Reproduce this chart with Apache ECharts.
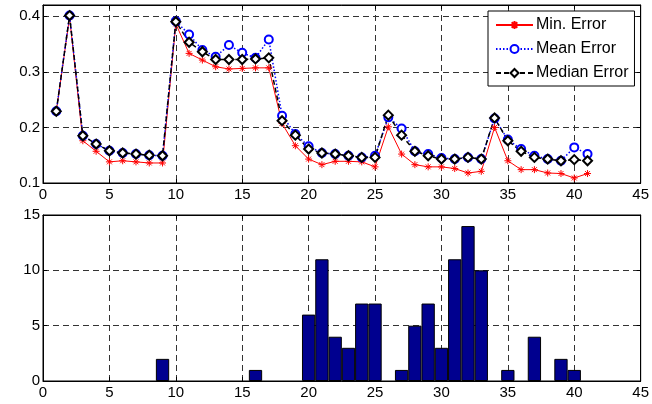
<!DOCTYPE html>
<html>
<head>
    <meta charset="utf-8">
    <title>Error plot</title>
    <script src="https://cdn.jsdelivr.net/npm/echarts@6/dist/echarts.min.js"></script>
</head>
<style>
    html, body { margin: 0; background: #fff; }
    #main { width: 652px; height: 404px; }
</style>
<body>
    <div id="main"></div>
    <script type="text/javascript">
        // top plot: errors per index
        var xs = [1,2,3,4,5,6,7,8,9,10,11,12,13,14,15,16,17,18,19,20,21,22,23,24,25,26,27,28,29,30,31,32,33,34,35,36,37,38,39,40,41];
        var minErr = [0.228,0.398,0.176,0.157,0.138,0.140,0.138,0.136,0.136,0.386,0.333,0.321,0.309,0.305,0.306,0.307,0.307,0.207,0.167,0.143,0.133,0.139,0.139,0.138,0.129,0.201,0.152,0.133,0.129,0.129,0.126,0.118,0.121,0.200,0.140,0.124,0.124,0.118,0.117,0.109,0.117];
        var meanErr = [0.229,0.401,0.185,0.170,0.158,0.154,0.152,0.150,0.149,0.391,0.367,0.339,0.327,0.348,0.334,0.325,0.358,0.221,0.188,0.166,0.154,0.152,0.149,0.146,0.149,0.218,0.198,0.157,0.152,0.145,0.143,0.146,0.143,0.216,0.178,0.161,0.149,0.143,0.140,0.164,0.152];
        var medianErr = [0.229,0.401,0.185,0.170,0.158,0.154,0.152,0.150,0.149,0.390,0.353,0.336,0.322,0.322,0.322,0.323,0.325,0.212,0.186,0.161,0.154,0.152,0.149,0.146,0.146,0.222,0.186,0.157,0.149,0.143,0.143,0.146,0.143,0.217,0.176,0.157,0.146,0.143,0.140,0.142,0.140];
        // bottom plot: histogram
        var histX = [9,16,20,21,22,23,24,25,27,28,29,30,31,32,33,35,37,39,40];
        var histY = [2,1,6,11,4,3,7,7,1,5,7,3,11,14,10,1,4,2,1];

        function pairs(a, b) {
            var out = [];
            for (var i = 0; i < a.length; i++) out.push([a[i], b[i]]);
            return out;
        }

        var font = 'Liberation Sans, Arial, sans-serif';
        var gridLine = { show: true, lineStyle: { color: '#333', type: [6, 4], width: 1 } };
        var tick = { show: true, inside: true, length: 4, lineStyle: { color: '#000' } };
        var label = { color: '#000', fontSize: 15, fontFamily: font, margin: 4 };

        function xAxis(grid, pos, show) {
            return {
                type: 'value', gridIndex: grid, position: pos, min: 0, max: 45, interval: 5,
                axisLine: { show: true, onZero: false, lineStyle: { color: '#000' } },
                axisTick: tick,
                axisLabel: show ? label : { show: false },
                splitLine: show ? gridLine : { show: false }
            };
        }
        function yAxis(grid, pos, show, min, max, interval, fmt) {
            var lab = show ? Object.assign({ showMaxLabel: max % interval === 0, formatter: fmt }, label, { margin: 3 }) : { show: false };
            return {
                type: 'value', gridIndex: grid, position: pos, min: min, max: max, interval: interval,
                axisLine: { show: true, onZero: false, lineStyle: { color: '#000' } },
                axisTick: tick,
                axisLabel: lab,
                splitLine: show ? gridLine : { show: false }
            };
        }

        var star = 'path://M5,0L5,10M0,5L10,5M1.5,1.5L8.5,8.5M8.5,1.5L1.5,8.5';

        var option = {
            animation: false,
            backgroundColor: '#fff',
            grid: [
                { left: 43, top: 5, width: 600, height: 178, show: true, borderColor: '#000', borderWidth: 1 },
                { left: 43, top: 215, width: 600, height: 166, show: true, borderColor: '#000', borderWidth: 1 }
            ],
            xAxis: [xAxis(0, 'bottom', true), xAxis(0, 'top', false), xAxis(1, 'bottom', true), xAxis(1, 'top', false)],
            yAxis: [
                yAxis(0, 'left', true, 0.1, 0.42, 0.1, function (v) { return v.toFixed(1); }),
                yAxis(0, 'right', false, 0.1, 0.42, 0.1),
                yAxis(1, 'left', true, 0, 15, 5),
                yAxis(1, 'right', false, 0, 15, 5)
            ],
            legend: {
                orient: 'vertical', left: 488, top: 11,
                padding: [6, 6, 5, 7], itemGap: 8, itemWidth: 37, itemHeight: 10,
                backgroundColor: '#fff', borderColor: '#000', borderWidth: 1,
                textStyle: { color: '#000', fontSize: 16, fontFamily: font, padding: [0, 0, 0, -2] },
                data: ['Min. Error', 'Mean Error', 'Median Error']
            },
            series: [
                {
                    name: 'Min. Error', type: 'line', xAxisIndex: 0, yAxisIndex: 0,
                    data: pairs(xs, minErr),
                    symbol: star, symbolSize: 7,
                    lineStyle: { color: '#ff0000', width: 1 },
                    itemStyle: { color: '#ff0000', borderColor: '#ff0000', borderWidth: 1 }
                },
                {
                    name: 'Mean Error', type: 'line', xAxisIndex: 0, yAxisIndex: 0,
                    data: pairs(xs, meanErr),
                    symbol: 'emptyCircle', symbolSize: 8,
                    lineStyle: { color: '#0000ff', width: 1.5, type: [1.5, 2] },
                    itemStyle: { color: '#0000ff', borderColor: '#0000ff', borderWidth: 1.5 }
                },
                {
                    name: 'Median Error', type: 'line', xAxisIndex: 0, yAxisIndex: 0,
                    data: pairs(xs, medianErr),
                    symbol: 'emptyDiamond', symbolSize: 9,
                    lineStyle: { color: '#000', width: 1.5, type: [5, 3] },
                    itemStyle: { color: '#000', borderColor: '#000', borderWidth: 1.5 }
                },
                {
                    name: 'hist', type: 'bar', xAxisIndex: 2, yAxisIndex: 2,
                    data: pairs(histX, histY),
                    barWidth: 13.3,
                    itemStyle: { color: '#00008f', borderColor: '#000', borderWidth: 1 }
                }
            ]
        };

        var myChart = echarts.init(document.getElementById('main'));
        myChart.setOption(option);
    </script>
</body>
</html>
